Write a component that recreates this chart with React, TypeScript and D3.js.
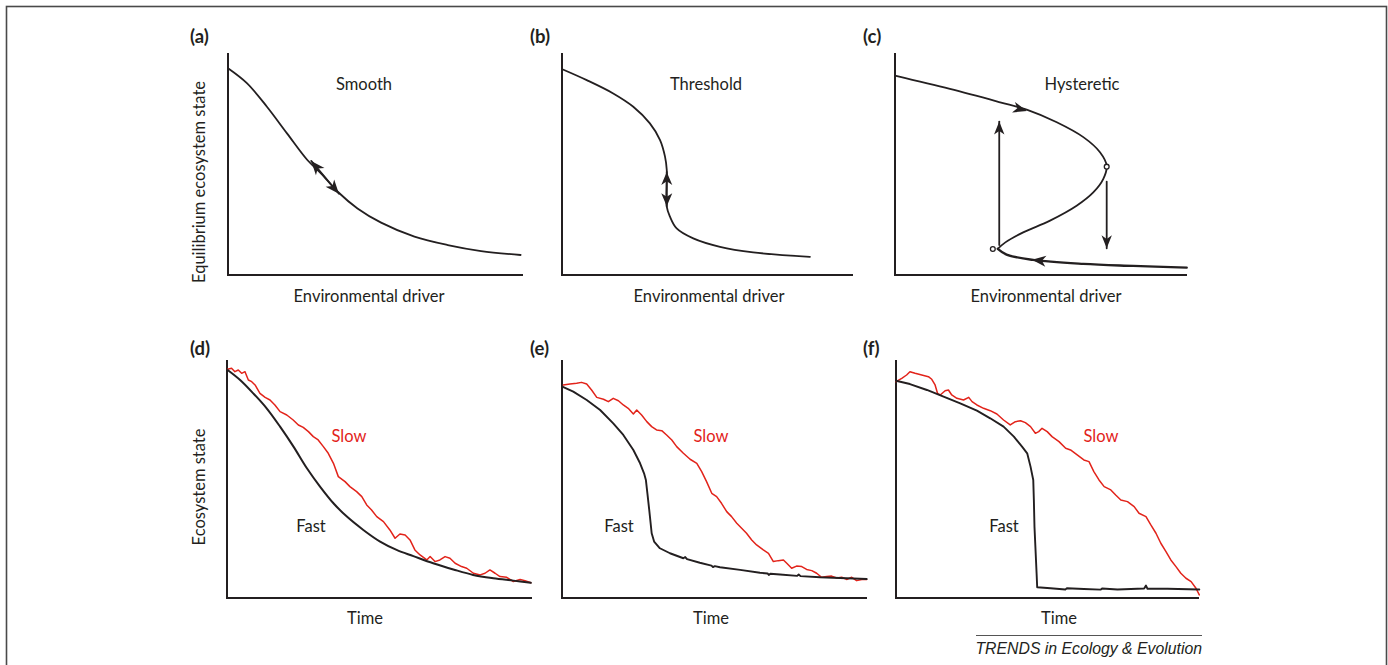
import React, { useEffect, useRef } from 'react';
import * as d3 from 'd3';

type Pt = [number, number];

// ---- data (x: driver / time, y: state, both on a 0-100 scale) ----
const smoothCurve: Pt[] = [
  [0, 93.1], [6.4, 86.4], [13.2, 75.8], [20.0, 63.8], [26.9, 51.8], [31.5, 45.8],
  [37.2, 37.5], [43.9, 30.0], [51.9, 23.6], [63.2, 17.3], [74.5, 13.5], [85.8, 10.8], [99.2, 9.0],
];
const smoothArrow: Pt[] = [[28.2, 51.4], [37.6, 36.6]];

const thresholdCurve: Pt[] = [
  [0.1, 92.7], [8.5, 87.8], [17.6, 81.8], [24.5, 75.8], [30.2, 68.3], [33.7, 60.8],
  [35.4, 53.3], [36.0, 47.3], [36.0, 30.8], [37.1, 26.3], [39.4, 21.0], [45.1, 16.5],
  [54.3, 12.7], [65.7, 10.2], [85.2, 8.2],
];
const thresholdArrow: Pt[] = [[36.0, 46.4], [36.0, 31.0]];

const hystUpper: Pt[] = [
  [0, 89.8], [18.8, 83.8], [36.0, 77.8], [45.1, 74.5], [55.4, 68.8], [64.5, 62.1],
  [70.2, 55.3], [72.5, 49.2],
];
const hystMiddle: Pt[] = [
  [71.3, 43.2], [67.9, 37.2], [62.2, 31.2], [53.1, 24.5], [43.9, 19.2], [37.8, 14.7], [35.2, 11.8],
];
const hystLower: Pt[] = [
  [38.2, 9.2], [47.3, 6.8], [64.5, 5.0], [81.6, 4.1], [99.9, 3.3],
];
const hystFolds: Pt[] = [[72.5, 48.8], [33.5, 11.7]];
const hystJumpUp: Pt[] = [[35.7, 13.5], [35.7, 69.1]];
const hystJumpDown: Pt[] = [[72.5, 42.0], [72.5, 12.0]];
const hystFlowTop: Pt[] = [[38.0, 76.5], [45.2, 73.9]];
const hystFlowBottom: Pt[] = [[56.0, 5.6], [46.9, 6.9]];

const fastD: Pt[] = [
  [0.2, 95.8], [4.3, 91.6], [8.6, 86.0], [13.0, 79.7], [17.4, 72.0], [21.8, 63.6], [26.2, 54.5],
  [30.5, 46.8], [34.9, 39.8], [39.3, 34.2], [44.7, 28.6], [50.2, 23.7], [55.6, 20.2], [61.1, 17.6],
  [67.6, 14.6], [74.2, 12.0], [80.7, 9.7], [87.3, 8.3], [93.9, 7.3], [99.6, 6.4],
];
const slowD: Pt[] = [
  [0.2, 96.1], [1.5, 96.5], [2.6, 95.1], [3.7, 95.8], [4.8, 94.4], [5.9, 95.1], [7.0, 91.6],
  [8.1, 90.9], [9.2, 89.5], [10.8, 86.0], [12.5, 84.3], [14.1, 83.2], [15.7, 81.1], [17.4, 78.3],
  [19.6, 76.9], [21.7, 74.8], [23.4, 72.7], [25.0, 71.7], [26.7, 69.9], [28.3, 67.8], [29.9, 66.4],
  [31.6, 63.6], [33.2, 60.8], [34.9, 56.6], [36.5, 51.0], [38.7, 48.9], [40.3, 46.8], [42.5, 44.7],
  [44.2, 42.6], [45.8, 39.1], [47.4, 37.0], [49.1, 34.2], [51.3, 32.1], [53.4, 28.6], [55.1, 25.1],
  [56.7, 26.9], [58.4, 26.5], [60.0, 24.4], [61.6, 20.2], [63.3, 18.1], [65.5, 16.0], [66.6, 17.4],
  [68.2, 15.3], [69.8, 16.0], [71.5, 17.4], [73.1, 16.7], [74.8, 14.6], [76.9, 13.2], [78.6, 12.5],
  [80.8, 10.4], [83.0, 9.7], [84.6, 10.4], [86.2, 11.8], [87.9, 10.4], [89.5, 9.0], [91.7, 8.7],
  [93.9, 6.9], [96.1, 7.8], [97.7, 7.3], [99.6, 6.4],
];

const fastE: Pt[] = [
  [0.1, 88.8], [3.7, 86.7], [8.1, 83.2], [12.5, 79.0], [16.8, 73.4], [20.1, 68.5], [23.4, 62.2],
  [25.6, 56.6], [26.9, 52.4], [27.5, 49.6], [28.0, 44.0], [28.6, 37.0], [29.4, 27.2], [30.2, 23.7],
  [32.1, 20.9], [35.4, 18.8], [39.8, 16.7], [40.4, 17.2], [41.0, 16.3], [45.2, 14.8], [49.0, 13.6],
  [49.5, 13.0], [50.1, 13.4], [51.8, 12.9], [58.4, 11.8], [64.9, 10.6], [67.4, 10.3], [67.8, 9.7],
  [68.3, 10.2], [71.5, 9.9], [77.1, 9.3], [77.6, 9.9], [78.2, 9.2], [84.6, 8.7], [91.1, 8.4],
  [99.9, 8.0],
];
const slowE: Pt[] = [
  [0.4, 89.5], [2.6, 89.9], [4.8, 90.2], [6.4, 90.6], [8.1, 89.9], [9.7, 87.4], [11.4, 84.3],
  [13.6, 83.5], [15.2, 82.5], [16.8, 83.9], [18.5, 82.9], [20.1, 81.1], [21.7, 79.7], [23.4, 77.3],
  [24.5, 79.0], [26.1, 76.9], [27.8, 74.1], [29.4, 72.0], [31.0, 70.6], [32.7, 70.3], [34.3, 68.5],
  [36.0, 66.4], [37.6, 63.6], [39.8, 60.8], [42.0, 58.3], [44.2, 56.6], [45.8, 53.1], [47.4, 48.9],
  [49.1, 44.0], [50.7, 42.6], [52.3, 39.8], [54.0, 36.3], [55.6, 34.2], [57.3, 31.4], [58.9, 29.3],
  [60.5, 27.2], [62.2, 24.4], [63.8, 22.3], [66.0, 20.2], [67.7, 18.8], [69.3, 15.3], [70.9, 15.7],
  [72.6, 16.0], [73.7, 14.6], [75.3, 12.5], [76.9, 13.4], [78.6, 13.2], [80.2, 12.0], [81.9, 11.5],
  [83.5, 10.4], [85.1, 8.7], [86.8, 9.0], [88.4, 9.2], [90.1, 8.4], [91.7, 8.7], [93.3, 7.8],
  [95.0, 8.7], [96.6, 7.3], [98.3, 7.8], [99.9, 7.8],
];

const fastF: Pt[] = [
  [0, 91.3], [4.6, 89.9], [10.2, 87.4], [15.7, 84.6], [21.2, 81.8], [26.7, 78.7], [31.1, 75.5],
  [35.5, 72.0], [38.9, 67.8], [41.6, 63.6], [43.3, 60.8], [44.4, 55.2], [45.3, 49.6], [45.5, 41.2],
  [45.7, 30.0], [46.0, 21.6], [46.4, 10.4], [46.6, 4.5], [51.0, 4.1], [55.9, 3.6], [56.4, 4.1],
  [62.0, 3.8], [67.5, 3.5], [68.0, 4.0], [73.1, 3.6], [81.9, 4.0], [82.5, 5.2], [83.0, 3.9],
  [89.6, 3.9], [100.1, 3.6],
];
const slowF: Pt[] = [
  [0, 90.9], [1.9, 92.3], [3.5, 93.7], [4.6, 95.1], [6.3, 94.4], [8.5, 93.7], [10.7, 93.0],
  [11.8, 91.9], [12.9, 89.5], [13.7, 86.0], [14.6, 85.3], [16.2, 87.1], [17.3, 87.4], [18.4, 85.3],
  [20.1, 83.9], [22.3, 83.2], [24.0, 84.3], [25.1, 82.5], [26.7, 81.1], [28.9, 79.7], [31.1, 78.7],
  [33.3, 77.3], [35.5, 74.8], [37.7, 72.7], [39.4, 74.1], [41.1, 74.5], [42.7, 73.7], [44.4, 72.0],
  [46.0, 69.2], [47.1, 69.9], [48.2, 71.3], [49.9, 69.9], [51.5, 67.8], [53.8, 65.7], [56.0, 62.9],
  [57.6, 62.2], [59.8, 60.1], [62.0, 58.0], [63.7, 57.3], [65.3, 53.1], [67.0, 49.6], [68.7, 46.8],
  [70.9, 45.4], [72.5, 43.3], [74.2, 41.2], [76.4, 40.5], [78.6, 38.4], [80.2, 35.6], [82.5, 34.2],
  [84.1, 30.7], [85.8, 27.2], [87.4, 23.0], [89.1, 19.5], [90.7, 16.0], [92.4, 13.2], [94.0, 10.4],
  [95.7, 8.3], [97.4, 6.9], [99.0, 4.1], [100.1, 1.3],
];

const INK = '#231f20';
const RED = '#e2231a';
const FONT = 'Lato, "Open Sans", sans-serif';
const FS = 16.5;

type Panel = {
  tag: string; x0: number; x1: number; yb: number; yt: number;
  xLabel: string; labelX: number; tagX: number; tagY: number;
};

const App = () => {
  const ref = useRef<SVGSVGElement | null>(null);

  useEffect(() => {
    if (!ref.current) return;
    const svg = d3.select(ref.current);
    svg.selectAll('*').remove();

    // outer frame
    svg.append('rect')
      .attr('x', 6.5).attr('y', 6.5).attr('width', 1380).attr('height', 700)
      .attr('fill', 'none').attr('stroke', '#4a4a4a').attr('stroke-width', 1.6);

    const panels: Panel[] = [
      { tag: '(a)', x0: 228, x1: 523, yb: 275, yt: 53, xLabel: 'Environmental driver', labelX: 369, tagX: 190, tagY: 43 },
      { tag: '(b)', x0: 562, x1: 853, yb: 275, yt: 53, xLabel: 'Environmental driver', labelX: 709, tagX: 530, tagY: 43 },
      { tag: '(c)', x0: 895, x1: 1187, yb: 275, yt: 53, xLabel: 'Environmental driver', labelX: 1046, tagX: 863, tagY: 43 },
      { tag: '(d)', x0: 227, x1: 532, yb: 598, yt: 360, xLabel: 'Time', labelX: 365, tagX: 190, tagY: 355 },
      { tag: '(e)', x0: 562, x1: 867, yb: 598, yt: 360, xLabel: 'Time', labelX: 711, tagX: 530, tagY: 355 },
      { tag: '(f)', x0: 896, x1: 1199, yb: 598, yt: 360, xLabel: 'Time', labelX: 1059, tagX: 863, tagY: 355 },
    ];

    const scales = panels.map(p => ({
      x: d3.scaleLinear().domain([0, 100]).range([p.x0, p.x1]),
      y: d3.scaleLinear().domain([0, 100]).range([p.yb, p.yt]),
    }));

    // axes + labels
    panels.forEach(p => {
      svg.append('path')
        .attr('d', `M${p.x0},${p.yt}V${p.yb}H${p.x1}`)
        .attr('fill', 'none').attr('stroke', INK).attr('stroke-width', 2);
      svg.append('text')
        .attr('x', p.tagX).attr('y', p.tagY)
        .attr('font-family', FONT).attr('font-weight', 'bold').attr('font-size', 18.5)
        .attr('fill', INK).text(p.tag);
      svg.append('text')
        .attr('x', p.labelX).attr('y', p.yt < 300 ? 302 : 624)
        .attr('text-anchor', 'middle')
        .attr('font-family', FONT).attr('font-size', FS)
        .attr('fill', INK).text(p.xLabel);
    });

    const yTitle = (txt: string, cy: number) => {
      svg.append('text')
        .attr('transform', `translate(205,${cy}) rotate(-90)`)
        .attr('text-anchor', 'middle')
        .attr('font-family', FONT).attr('font-size', FS)
        .attr('fill', INK).text(txt);
    };
    yTitle('Equilibrium ecosystem state', 182);
    yTitle('Ecosystem state', 487);

    const note = (txt: string, x: number, y: number, color = INK) => {
      svg.append('text')
        .attr('x', x).attr('y', y).attr('text-anchor', 'middle')
        .attr('font-family', FONT).attr('font-size', FS)
        .attr('fill', color).text(txt);
    };
    note('Smooth', 364, 90);
    note('Threshold', 706, 90);
    note('Hysteretic', 1082, 90);
    note('Slow', 349, 442, RED); note('Fast', 311, 532);
    note('Slow', 711, 442, RED); note('Fast', 619, 532);
    note('Slow', 1101, 442, RED); note('Fast', 1004, 532);

    const drawLine = (i: number, pts: Pt[], color: string, w: number, curve: d3.CurveFactory) => {
      const s = scales[i];
      const line = d3.line<Pt>().x(d => s.x(d[0])).y(d => s.y(d[1])).curve(curve);
      svg.append('path').attr('d', line(pts) ?? '')
        .attr('fill', 'none').attr('stroke', color).attr('stroke-width', w)
        .attr('stroke-linejoin', 'round').attr('stroke-linecap', 'round');
    };

    // arrowhead with its tip at `to`, pointing away from `from`
    const head = (i: number, from: Pt, to: Pt, len = 13, half = 5.2) => {
      const s = scales[i];
      const fx = s.x(from[0]), fy = s.y(from[1]);
      const tx = s.x(to[0]), ty = s.y(to[1]);
      const a = Math.atan2(ty - fy, tx - fx);
      const ux = Math.cos(a), uy = Math.sin(a);
      const px = -uy, py = ux;
      const bx = tx - ux * len, by = ty - uy * len;
      const nx = tx - ux * len * 0.72, ny = ty - uy * len * 0.72;
      svg.append('path')
        .attr('d', `M${tx},${ty}L${bx + px * half},${by + py * half}L${nx},${ny}L${bx - px * half},${by - py * half}Z`)
        .attr('fill', INK);
    };
    const arrow = (i: number, seg: Pt[], both: boolean, len = 13, half = 5.2) => {
      drawLine(i, seg, INK, 1.8, d3.curveLinear);
      head(i, seg[0], seg[1], len, half);
      if (both) head(i, seg[1], seg[0], len, half);
    };

    // (a)
    drawLine(0, smoothCurve, INK, 1.8, d3.curveCatmullRom);
    arrow(0, smoothArrow, true, 14, 5.6);
    // (b)
    drawLine(1, thresholdCurve, INK, 1.8, d3.curveCatmullRom);
    arrow(1, thresholdArrow, true, 13, 5.5);
    // (c)
    drawLine(2, [...hystUpper, ...hystMiddle], INK, 1.8, d3.curveCatmullRom);
    drawLine(2, [hystMiddle[hystMiddle.length - 1], ...hystLower], INK, 2.4, d3.curveCatmullRom);
    arrow(2, hystJumpUp, false);
    arrow(2, hystJumpDown, false);
    head(2, hystFlowTop[0], hystFlowTop[1], 14, 5.5);
    head(2, hystFlowBottom[0], hystFlowBottom[1], 14, 5.5);
    hystFolds.forEach(d => {
      svg.append('circle')
        .attr('cx', scales[2].x(d[0])).attr('cy', scales[2].y(d[1])).attr('r', 2.4)
        .attr('fill', '#fff').attr('stroke', INK).attr('stroke-width', 1.3);
    });

    // (d)-(f)
    drawLine(3, slowD, RED, 1.5, d3.curveLinear);
    drawLine(3, fastD, INK, 2, d3.curveCatmullRom);
    drawLine(4, slowE, RED, 1.5, d3.curveLinear);
    drawLine(4, fastE, INK, 1.9, d3.curveLinear);
    drawLine(5, slowF, RED, 1.5, d3.curveLinear);
    drawLine(5, fastF, INK, 1.9, d3.curveLinear);

    // credit
    svg.append('line')
      .attr('x1', 976).attr('x2', 1202).attr('y1', 635.5).attr('y2', 635.5)
      .attr('stroke', '#555').attr('stroke-width', 1);
    svg.append('text')
      .attr('x', 1202).attr('y', 654).attr('text-anchor', 'end')
      .attr('font-family', '"Liberation Sans", Arial, sans-serif').attr('font-style', 'italic')
      .attr('font-size', 15.8).attr('fill', INK).text('TRENDS in Ecology & Evolution');
  }, []);

  return (
    <svg ref={ref} width={1388} height={665}
      style={{ position: 'absolute', left: 0, top: 0, background: '#fff' }} />
  );
};

export default App;
